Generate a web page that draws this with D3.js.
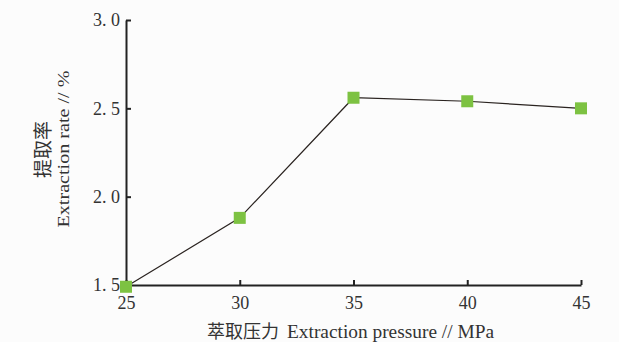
<!DOCTYPE html>
<html>
<head>
<meta charset="utf-8">
<script src="https://cdn.jsdelivr.net/npm/d3@7"></script>
<style>
  body { margin: 0; background: #fcfcfc; }
  text { font-family: "Liberation Serif", "Noto Sans CJK SC", serif; fill: #333; }
</style>
</head>
<body>
<div id="chart"></div>
<script>
// data
var pressure = [25, 30, 35, 40, 45];
var rate = [1.49, 1.88, 2.56, 2.54, 2.50];
var xTicks = [25, 30, 35, 40, 45];
var yTicks = [1.5, 2.0, 2.5, 3.0];

var W = 619, H = 342;
var margin = {top: 20, right: 38, bottom: 57, left: 126},
    width = W - margin.left - margin.right,
    height = H - margin.top - margin.bottom;

var svg = d3.select("#chart").append("svg")
    .attr("width", W)
    .attr("height", H)
  .append("g")
    .attr("transform", "translate(" + margin.left + "," + margin.top + ")");

var x = d3.scaleLinear().domain([25, 45]).range([0, width]);
var y = d3.scaleLinear().domain([1.5, 3.0]).range([height, 0]);

// x axis, ticks pointing up
var xAxis = svg.append("g")
    .attr("transform", "translate(0," + height + ")")
    .call(d3.axisBottom(x).tickValues(xTicks).tickSizeInner(-5).tickSizeOuter(0).tickPadding(11));

// y axis, ticks pointing right
var yAxis = svg.append("g")
    .call(d3.axisLeft(y).tickValues(yTicks).tickSizeInner(-5).tickSizeOuter(0).tickPadding(6)
      .tickFormat(function(d) { return d3.format(".1f")(d).replace(".", ". "); }));

[xAxis, yAxis].forEach(function(a) {
  a.select(".domain").attr("stroke", "#222").attr("stroke-width", 2);
  a.selectAll(".tick line").attr("stroke", "#222").attr("stroke-width", 2);
  a.selectAll(".tick text").attr("font-size", 18).attr("fill", "#333")
    .style("font-family", "'Liberation Serif', serif");
});
yAxis.selectAll(".tick text").attr("dy", "0.32em");
xAxis.selectAll(".tick text").attr("dy", "0.71em");

// line
var line = d3.line()
    .x(function(d, i) { return x(pressure[i]); })
    .y(function(d) { return y(d); });

svg.append("path")
    .datum(rate)
    .attr("fill", "none")
    .attr("stroke", "#2a2320")
    .attr("stroke-width", 1.2)
    .attr("d", line);

// square markers
var S = 12;
svg.selectAll(".pt")
    .data(rate)
  .enter().append("rect")
    .attr("class", "pt")
    .attr("x", function(d, i) { return x(pressure[i]) - S / 2; })
    .attr("y", function(d) { return y(d) - S / 2; })
    .attr("width", S)
    .attr("height", S)
    .attr("fill", "#7dc242");

// axis titles
var xl = svg.append("text")
    .attr("x", 81)
    .attr("y", height + 53)
    .attr("font-size", 18);
xl.append("tspan").attr("font-size", 18).text("萃取压力");
xl.append("tspan").attr("dx", 8).attr("textLength", 207).attr("lengthAdjust", "spacingAndGlyphs")
    .text("Extraction pressure // MPa");

var yl = svg.append("g")
    .attr("transform", "translate(" + (-76) + "," + (height / 2 - 3) + ") rotate(-90)");
yl.append("text")
    .attr("text-anchor", "middle")
    .attr("font-size", 19)
    .text("提取率");
yl.append("text")
    .attr("x", -78)
    .attr("y", 19)
    .attr("font-size", 17)
    .attr("textLength", 157)
    .attr("lengthAdjust", "spacingAndGlyphs")
    .text("Extraction rate // %");
</script>
</body>
</html>
